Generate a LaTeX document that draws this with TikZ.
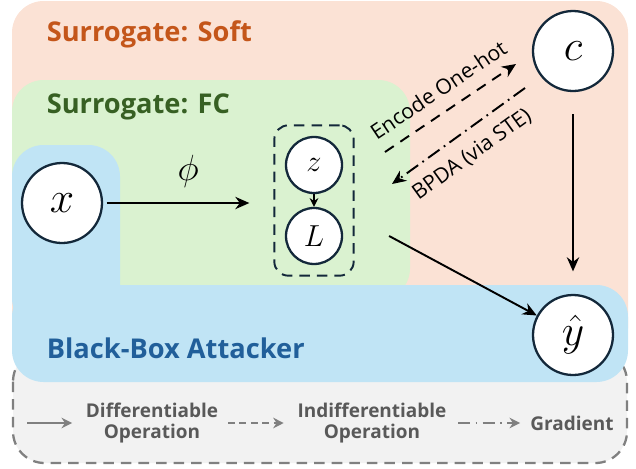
\documentclass[tikz,border=0pt]{standalone}
\usepackage{fontspec}
\setmainfont{Open Sans}
\usepackage{xcolor}
\usetikzlibrary{arrows.meta, shapes.geometric, positioning, fit}

\definecolor{softbg}{HTML}{FBE2D5}
\definecolor{fcbg}{HTML}{DAF2D0}
\definecolor{bbbg}{HTML}{C0E4F5}
\definecolor{legbg}{HTML}{F2F2F2}
\definecolor{legline}{HTML}{808080}
\definecolor{legtext}{HTML}{595959}
\definecolor{softtitle}{HTML}{C4561A}
\definecolor{fctitle}{HTML}{376023}
\definecolor{bbtitle}{HTML}{215F9A}
\definecolor{nodeline}{HTML}{13283A}

\begin{document}
\begin{tikzpicture}[x=0.02cm, y=-0.02cm, on grid, >={Stealth[length=8pt, width=7pt]}, line width=1.1pt,
    state/.style={circle, draw=nodeline, fill=white, line width=1.3pt, minimum size=1.6cm, inner sep=0pt, font=\fontsize{26}{28}\selectfont},
    small/.style={state, minimum size=1.12cm, font=\fontsize{19}{21}\selectfont},
    region/.style={rounded corners=18pt},
    title/.style={anchor=west, font=\fontsize{15.5}{18}\selectfont\bfseries},
    lab/.style={font=\fontsize{12}{14}\selectfont},
    legend/.style={font=\fontsize{10.8}{12.5}\selectfont\bfseries, text=legtext, align=center},
    legarrow/.style={draw=legline, line width=1.5pt, -{Stealth[length=6pt, width=6pt]}}]

    \useasboundingbox (0,0) rectangle (636,468);

    % regions
    \fill[region, softbg] (12,1) rectangle (628,360);
    \draw[region, legline, fill=legbg, line width=1.3pt, dash pattern=on 6pt off 4pt] (13,350) rectangle (627,463);
    \fill[region, fcbg] (12,80) rectangle (410,300);
    \fill[region, bbbg] (12,145) rectangle (120,330);
    \fill[region, bbbg] (12,285) rectangle (628,382);

    \node[title, text=softtitle] (soft) at (40,34) {Surrogate: Soft};
    \node[title, text=fctitle] (fc) at (40,107) {Surrogate: FC};
    \node[title, text=bbtitle] (bb) at (40,348) {Black-Box Attacker};

    % variables
    \node[state] (x) at (62,203) {$x$};
    \node[small] (z) at (314,165) {$z$};
    \node[small, below=1.42cm of z] (L) {$L$};
    \node[draw=nodeline, line width=1.1pt, dash pattern=on 6pt off 4pt, rounded corners=8pt, inner sep=6pt, fit=(z)(L)] (zl) {};
    \node[state] (c) at (573,51) {$c$};
    \node[state] (yhat) at (573,335) {$\hat{y}$};

    \coordinate (enc-a) at (385,152);
    \coordinate (enc-b) at (516,64);
    \coordinate (bpda-a) at (525,88);
    \coordinate (bpda-b) at (392,184);

    \draw[->, shorten <=2pt, shorten >=0.48cm] (x) -- node[midway, above=5pt, font=\fontsize{21}{23}\selectfont] {$\phi$} (x -| zl.west);
    \draw[->, line width=0.8pt, >={Stealth[length=5pt, width=5pt]}] (z) -- (L);
    \draw[->] ([xshift=0.92cm]L.east) -- (yhat);
    \draw[->, shorten <=0.44cm, shorten >=0.45cm] (c) -- (yhat);

    \draw[->, dash pattern=on 6pt off 4.5pt] (enc-a) -- node[lab, midway, above=4pt, sloped] {Encode One-hot} (enc-b);
    \draw[->, dash pattern=on 8pt off 3pt on 1pt off 3pt] (bpda-a) -- node[lab, midway, below=4pt, sloped] {BPDA (via STE)} (bpda-b);

    % legend
    \node[legend] (diff) at (152,423) {Differentiable\\Operation};
    \node[legend] (indiff) at (372,423) {Indifferentiable\\Operation};
    \node[legend] (grad) at (572,423) {Gradient};
    \coordinate (l1) at (27,423);
    \coordinate (l2) at (228,423);
    \coordinate (l3) at (458,423);
    \draw[legarrow, shorten >=4pt] (l1) -- (diff.west);
    \draw[legarrow, dash pattern=on 4pt off 2.5pt, shorten >=4pt] (l2) -- (indiff.west);
    \draw[legarrow, dash pattern=on 7pt off 3pt on 1pt off 3pt, shorten >=2pt] (l3) -- (grad.west);

\end{tikzpicture}
\end{document}
